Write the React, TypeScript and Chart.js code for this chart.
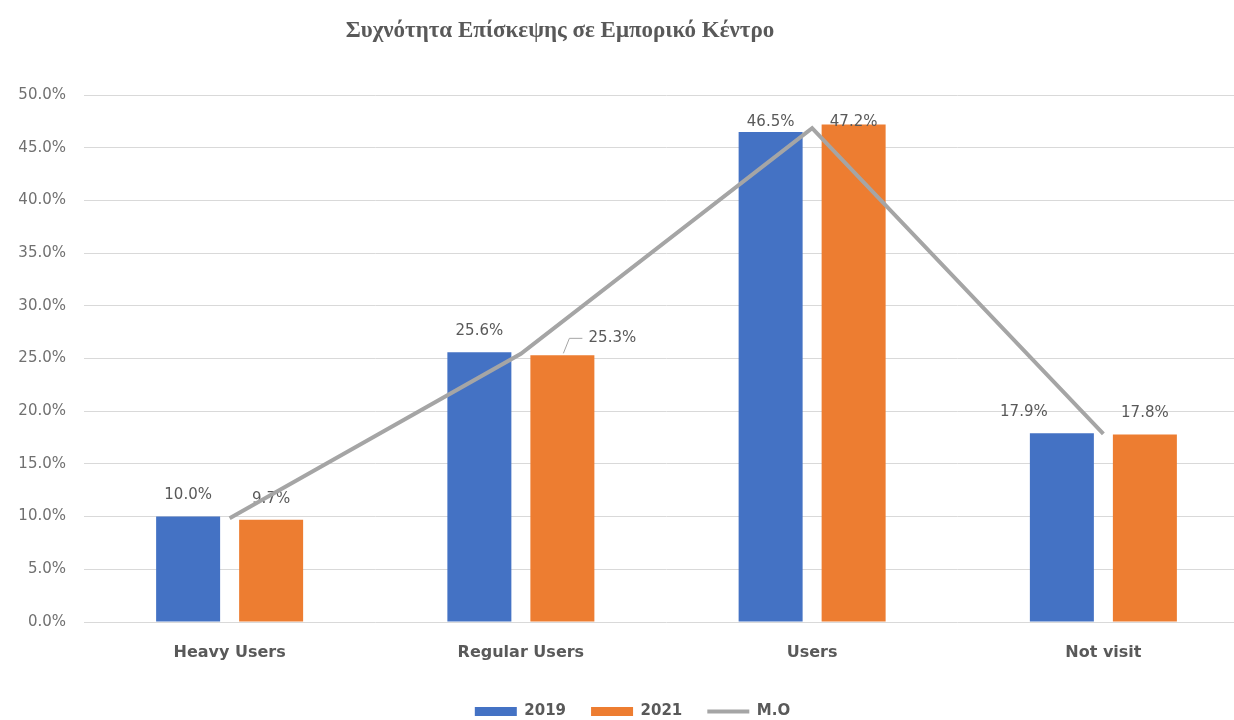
import React, { useEffect, useRef } from 'react';
import { Chart, registerables } from 'chart.js';

Chart.register(...registerables);

const titleText = 'Συχνότητα Επίσκεψης σε Εμπορικό Κέντρο';
const categories = ['Heavy Users', 'Regular Users', 'Users', 'Not visit'];
const seriesNames = ['2019', '2021', 'M.O'];
const values2019 = [10.0, 25.6, 46.5, 17.9];
const values2021 = [9.7, 25.3, 47.2, 17.8];
const valuesMO = [9.85, 25.45, 46.85, 17.85];
const yMin = 0;
const yMax = 50;
const yStep = 5;

// label placement tweaks (style only)
const labelShift = [
  [{ dx: 0, dy: 0 }, { dx: 0, dy: 0 }, { dx: 0, dy: 0 }, { dx: -38, dy: 0 }],
  [{ dx: 0, dy: 0 }, { dx: 50, dy: 4, leader: true }, { dx: 0, dy: 0 }, { dx: 0, dy: 0 }],
];

const BLUE = '#4472C4';
const ORANGE = '#ED7D31';
const GRAY = '#A5A5A5';
const TEXT = '#595959';
const FONT = '"DejaVu Sans", sans-serif';

const barLabelPlugin = {
  id: 'barLabelPlugin',
  afterDatasetDraw(chart: any, args: any) {
    const di = args.index;
    if (di > 1) return;
    const ctx = chart.ctx;
    const meta = chart.getDatasetMeta(di);
    ctx.save();
    ctx.font = `15px ${FONT}`;
    ctx.fillStyle = TEXT;
    ctx.textAlign = 'center';
    ctx.textBaseline = 'middle';
    meta.data.forEach((bar: any, i: number) => {
      const v = chart.data.datasets[di].data[i] as number;
      const sh: any = labelShift[di][i];
      const x = bar.x + sh.dx;
      const y = Math.max(bar.y - 21, chart.chartArea.top + 27) + sh.dy;
      ctx.fillText(v.toFixed(1) + '%', x, y);
      if (sh.leader) {
        ctx.strokeStyle = GRAY;
        ctx.lineWidth = 1;
        ctx.beginPath();
        ctx.moveTo(bar.x + 1, bar.y - 2);
        ctx.lineTo(bar.x + 7, y);
        ctx.lineTo(bar.x + 20, y);
        ctx.stroke();
      }
    });
    ctx.restore();
  },
};

export default function App() {
  const ref = useRef<HTMLCanvasElement>(null);

  useEffect(() => {
    const chart = new Chart(ref.current as HTMLCanvasElement, {
      type: 'bar',
      data: {
        labels: categories,
        datasets: [
          {
            type: 'bar',
            label: seriesNames[0],
            data: values2019,
            backgroundColor: BLUE,
            borderWidth: 0,
            pointStyle: 'rect',
            categoryPercentage: 0.57,
            barPercentage: 0.771,
          } as any,
          {
            type: 'bar',
            label: seriesNames[1],
            data: values2021,
            backgroundColor: ORANGE,
            borderWidth: 0,
            pointStyle: 'rect',
            categoryPercentage: 0.57,
            barPercentage: 0.771,
          } as any,
          {
            type: 'line',
            label: seriesNames[2],
            data: valuesMO,
            borderColor: GRAY,
            backgroundColor: GRAY,
            borderWidth: 4,
            pointRadius: 0,
            pointHoverRadius: 0,
            pointStyle: 'line',
            tension: 0,
            order: -1,
          } as any,
        ],
      },
      options: {
        responsive: false,
        animation: false,
        devicePixelRatio: 1,
        layout: { padding: { left: 16, right: 36, top: 95, bottom: 0 } },
        plugins: {
          title: { display: false },
          tooltip: { enabled: false },
          legend: {
            position: 'bottom',
            labels: {
              usePointStyle: true,
              pointStyleWidth: 42,
              boxHeight: 9,
              padding: 25,
              color: TEXT,
              font: { family: FONT, size: 15, weight: 'bold' },
              sort: (a: any, b: any) => a.datasetIndex - b.datasetIndex,
            },
          },
        },
        scales: {
          x: {
            grid: { display: false, drawTicks: false },
            border: { display: false },
            ticks: {
              color: TEXT,
              padding: 21,
              font: { family: FONT, size: 16, weight: 'bold' },
            },
            afterFit: (s: any) => {
              s.height = 57;
            },
          },
          y: {
            min: yMin,
            max: yMax,
            grid: { color: '#D9D9D9', lineWidth: 1, drawTicks: false },
            border: { display: false },
            ticks: {
              stepSize: yStep,
              color: '#707070',
              padding: 18,
              font: { family: FONT, size: 15 },
              callback: (v: any) => Number(v).toFixed(1) + '%',
            },
            afterFit: (s: any) => {
              s.width = 68;
            },
          },
        },
      },
      plugins: [barLabelPlugin],
    });
    return () => chart.destroy();
  }, []);

  return (
    <div
      style={{
        position: 'fixed',
        left: 0,
        top: 0,
        width: 1234,
        height: 720,
        overflow: 'hidden',
        background: '#ffffff',
      }}
    >
      <canvas
        ref={ref}
        width={1285}
        height={729}
        style={{ position: 'absolute', left: 0, top: 0, width: 1285, height: 729 }}
      />
      <div
        style={{
          position: 'absolute',
          left: 0,
          top: 18,
          width: 1120,
          textAlign: 'center',
          fontFamily: '"Liberation Serif", serif',
          fontWeight: 'bold',
          fontSize: 23,
          lineHeight: '23px',
          color: TEXT,
          whiteSpace: 'nowrap',
        }}
      >
        {titleText}
      </div>
    </div>
  );
}
